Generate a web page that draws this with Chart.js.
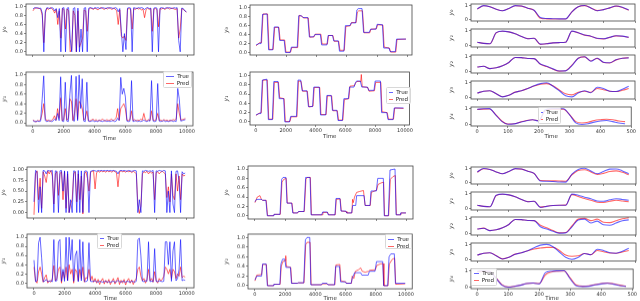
<!DOCTYPE html>
<html lang="en">
<head>
<meta charset="UTF-8" />
<title>True vs Pred</title>
<script src="https://cdn.jsdelivr.net/npm/chart.js@4.4.1/dist/chart.umd.min.js"></script>
<style>
  body { margin: 0; background: #fff; width: 640px; height: 301px; overflow: hidden; position: relative; font-family: "DejaVu Sans", sans-serif; }
  .panel { position: absolute; }
  .leg { position: absolute; z-index: 5; box-sizing: border-box; background: rgba(255,255,255,0.85); border: 1px solid #d8d8d8; border-radius: 1.5px; padding: 1px 2px; font: 5.5px "DejaVu Sans", sans-serif; color: #222; }
  .leg div { height: 7px; line-height: 7px; display: flex; align-items: center; white-space: nowrap; }
  .leg i { display: inline-block; width: 9px; height: 1px; margin-right: 3px; }
</style>
</head>
<body>
<script>
  // ---- data ----
  // left column: one sample every 100 time steps
  const leftT = Array.from({ length: 100 }, (_, i) => i * 100);

  const tl0True = [0.94,0.97,0.96,0.97,0.95,0.96,0.85,0.0,0.9,0.97,
    0.96,0.95,0.97,0.96,0.9,0.95,0.75,0.95,0.0,0.96,
    0.97,0.0,0.96,0.97,0.3,0.0,0.95,0.97,0.0,0.96,
    0.0,0.5,0.0,0.96,0.97,0.0,0.96,0.97,0.96,0.95,
    0.97,0.96,0.97,0.95,0.96,0.97,0.96,0.95,0.97,0.96,
    0.97,0.96,0.95,0.97,0.96,0.88,0.95,0.45,0.0,0.4,
    0.05,0.96,0.97,0.96,0.0,0.97,0.96,0.95,0.97,0.96,
    0.97,0.96,0.93,0.96,0.97,0.95,0.96,0.0,0.96,0.97,
    0.96,0.0,0.96,0.97,0.96,0.95,0.97,0.96,0.97,0.96,
    0.95,0.97,0.96,0.97,0.25,0.0,0.96,0.95,0.9,0.88];
  const tl0Pred = [0.9,0.95,0.97,0.95,0.96,0.93,0.8,0.2,0.85,0.96,
    0.93,0.97,0.95,0.92,0.85,0.93,0.6,0.9,0.3,0.95,
    0.93,0.5,0.94,0.9,0.0,0.05,0.9,0.8,0.0,0.9,
    0.1,0.2,0.3,0.92,0.9,0.45,0.93,0.96,0.95,0.93,
    0.96,0.94,0.92,0.96,0.97,0.95,0.93,0.96,0.94,0.97,
    0.95,0.93,0.96,0.94,0.9,0.6,0.92,0.35,0.3,0.35,
    0.25,0.94,0.95,0.93,0.5,0.95,0.93,0.96,0.94,0.95,
    0.92,0.94,0.75,0.93,0.96,0.93,0.95,0.45,0.94,0.95,
    0.93,0.55,0.95,0.94,0.96,0.93,0.95,0.97,0.94,0.95,
    0.96,0.94,0.93,0.95,0.3,0.5,0.95,0.93,0.9,0.87];
  const tl1True = [0.05,0.03,0.03,0.04,0.03,0.04,0.5,0.98,0.05,0.03,
    0.04,0.05,0.03,0.04,0.08,0.05,0.2,0.05,0.96,0.04,
    0.03,0.85,0.04,0.03,0.6,0.99,0.05,0.04,0.97,0.05,
    1.0,0.3,0.92,0.04,0.03,0.85,0.04,0.03,0.04,0.05,
    0.03,0.04,0.03,0.05,0.04,0.03,0.04,0.05,0.03,0.04,
    0.03,0.04,0.05,0.03,0.04,0.1,0.05,0.95,0.6,0.72,
    0.55,0.04,0.03,0.04,0.88,0.03,0.04,0.05,0.03,0.04,
    0.03,0.04,0.06,0.04,0.03,0.05,0.04,0.88,0.04,0.03,
    0.04,0.82,0.04,0.03,0.04,0.05,0.03,0.04,0.03,0.04,
    0.05,0.03,0.04,0.03,0.72,0.5,0.04,0.05,0.06,0.07];
  const tl1Pred = [0.06,0.04,0.02,0.05,0.04,0.07,0.2,0.4,0.1,0.04,
    0.06,0.03,0.05,0.08,0.15,0.06,0.3,0.1,0.52,0.05,
    0.07,0.3,0.06,0.1,0.5,0.45,0.05,0.2,0.5,0.08,
    0.45,0.4,0.3,0.06,0.1,0.25,0.05,0.04,0.06,0.08,
    0.05,0.07,0.04,0.06,0.05,0.08,0.06,0.04,0.07,0.05,
    0.06,0.08,0.05,0.07,0.1,0.3,0.06,0.3,0.35,0.4,
    0.3,0.06,0.05,0.07,0.25,0.05,0.07,0.04,0.06,0.05,
    0.08,0.06,0.2,0.06,0.04,0.07,0.05,0.25,0.06,0.05,
    0.07,0.2,0.05,0.06,0.04,0.07,0.05,0.06,0.04,0.06,
    0.05,0.07,0.06,0.08,0.4,0.2,0.06,0.07,0.08,0.09];

  const bl0True = [0.25,0.98,0.95,0.0,0.6,0.0,0.98,0.97,0.9,0.98,
    0.97,0.96,0.98,0.0,0.97,0.96,0.0,0.97,0.98,0.5,
    0.97,0.0,0.96,0.0,0.3,0.0,0.97,0.96,0.0,0.98,
    0.0,0.97,0.0,0.96,0.97,0.95,0.0,0.96,0.97,0.98,
    0.97,0.96,0.98,0.97,0.98,0.97,0.98,0.97,0.98,0.97,
    0.98,0.97,0.98,0.97,0.96,0.9,0.97,0.98,0.97,0.98,
    0.97,0.96,0.98,0.97,0.96,0.97,0.98,0.97,0.0,0.3,
    0.0,0.97,0.96,0.98,0.97,0.96,0.97,0.96,0.98,0.0,
    0.97,0.96,0.98,0.97,0.96,0.98,0.97,0.0,0.5,0.0,
    0.97,0.2,0.0,0.96,0.97,0.75,0.0,0.95,0.9,0.92];
  const bl0Pred = [-0.05,0.9,0.97,0.3,0.8,0.1,0.95,0.85,0.7,0.97,
    0.9,0.98,0.85,0.2,0.9,0.95,0.4,0.9,0.95,0.3,
    0.95,0.1,0.9,0.0,0.2,0.3,0.9,0.95,0.25,0.9,
    0.3,0.85,-0.03,0.9,0.95,0.8,0.5,0.93,0.96,0.97,
    0.55,0.93,0.96,0.94,0.97,0.95,0.96,0.94,0.97,0.95,
    0.96,0.94,0.97,0.95,0.93,0.6,0.95,0.97,0.95,0.96,
    0.94,0.97,0.95,0.96,0.93,0.96,0.94,0.9,0.2,-0.02,
    0.15,0.9,0.95,0.93,0.96,0.9,0.95,0.92,0.94,0.3,
    0.93,0.95,0.9,0.94,0.96,0.93,0.9,0.35,0.6,0.25,
    0.9,0.4,0.3,0.9,0.5,0.85,0.3,0.9,0.85,0.87];
  const bl1True = [0.5,0.03,0.05,0.88,1.0,0.55,0.03,0.04,0.08,0.03,
    0.04,0.05,0.03,0.95,0.04,0.05,0.9,0.95,0.04,0.3,
    0.04,1.0,0.05,1.0,0.5,0.95,0.04,0.6,0.7,0.03,
    0.95,0.05,0.9,0.04,0.03,0.05,0.88,0.04,0.03,0.04,
    0.05,0.03,0.02,0.04,0.03,0.02,0.03,0.04,0.02,0.03,
    0.02,0.03,0.04,0.02,0.03,0.06,0.03,0.02,0.04,0.03,
    0.02,0.04,0.03,0.02,0.04,0.03,0.02,0.04,0.95,0.98,
    0.6,0.04,0.03,0.05,0.04,0.9,0.03,0.04,0.03,0.75,
    0.04,0.03,0.05,0.04,0.03,0.04,0.9,0.9,0.4,0.9,
    0.04,0.7,0.9,0.05,0.1,0.3,0.95,0.05,0.07,0.06];
  const bl1Pred = [0.35,0.05,0.0,0.25,0.35,0.2,0.02,0.12,0.18,0.0,
    0.05,0.02,0.1,0.38,0.05,0.1,0.3,0.35,0.0,0.25,
    0.1,0.35,0.05,0.4,0.2,0.3,0.0,0.3,0.25,0.05,
    0.3,0.1,0.35,0.02,0.12,0.1,0.3,0.05,0.15,0.02,
    0.1,0.0,0.08,-0.03,0.05,0.1,-0.02,0.06,0.0,0.08,
    -0.03,0.04,0.1,-0.02,0.05,0.12,-0.03,0.06,0.0,0.08,
    -0.04,0.05,0.1,0.0,0.07,-0.03,0.05,0.1,0.3,0.35,
    0.15,0.05,0.1,0.0,0.08,0.3,0.05,0.1,0.02,0.25,
    0.05,0.0,0.1,0.05,0.08,0.15,0.35,0.3,0.2,0.3,
    0.1,0.3,0.25,0.1,0.2,0.15,0.35,0.12,0.15,0.13];

  // middle column: breakpoints of the piecewise-constant signals
  const tmTrueX = [0,200,330,430,730,830,1100,1200,1480,1560,1860,1940,2250,2330,2720,2820,3000,3100,3420,3520,
    3800,3880,4250,4330,4680,4760,5050,5130,5430,5510,5800,5900,6200,6280,6580,6660,6750,7000,7100,7480,
    7560,7920,8000,8350,8430,8780,8860,9200,9280,9900];
  const tm0TrueY = [0.17,0.2,0.2,0.85,0.86,0.06,0.06,0.57,0.57,0.27,0.27,0.0,0.0,0.12,0.12,0.82,0.82,0.78,0.78,0.35,
    0.35,0.4,0.4,0.17,0.17,0.38,0.38,0.26,0.26,0.03,0.03,0.6,0.6,0.66,0.66,0.95,0.98,0.98,0.45,0.45,
    0.52,0.52,0.63,0.62,0.1,0.1,0.02,0.02,0.3,0.3];
  const tm1TrueY = [0.15,0.18,0.18,0.9,0.92,0.05,0.05,0.87,0.87,0.5,0.5,0.0,0.0,0.12,0.12,0.9,0.9,0.67,0.67,0.33,
    0.33,0.75,0.75,0.15,0.15,0.57,0.57,0.25,0.25,0.03,0.03,0.5,0.5,0.75,0.75,0.83,0.88,0.88,0.75,0.75,
    0.68,0.68,0.88,0.88,0.2,0.2,0.05,0.05,0.3,0.3];
  const tm0PredX = [0,230,360,460,760,860,1130,1230,1510,1590,1890,1970,2280,2360,2750,2850,3030,3130,3450,3550,
    3830,3910,4280,4360,4710,4790,5080,5160,5460,5540,5830,5930,6230,6310,6610,6690,6780,7030,7130,7510,
    7590,7950,8030,8380,8460,8810,8890,9230,9310,9900];
  const tm0PredY = [0.15,0.22,0.22,0.86,0.86,0.07,0.07,0.56,0.56,0.28,0.28,0.01,0.01,0.11,0.11,0.83,0.81,0.77,0.77,0.34,
    0.35,0.41,0.41,0.19,0.19,0.38,0.38,0.25,0.25,0.05,0.05,0.58,0.6,0.67,0.67,0.9,0.93,0.93,0.44,0.44,
    0.52,0.53,0.62,0.61,0.12,0.1,0.01,0.01,0.29,0.3];
  const tm1PredX = [0,230,360,460,760,860,1130,1230,1510,1590,1890,1970,2280,2360,2750,2850,3030,3130,3450,3550,
    3830,3910,4280,4360,4710,4790,5080,5160,5460,5540,5830,5930,6230,6310,6610,6690,6780,7030,7070,7130,7510,
    7590,7950,8030,8380,8460,8810,8890,9230,9310,9900];
  const tm1PredY = [0.14,0.19,0.2,0.9,0.9,0.06,0.06,0.85,0.85,0.52,0.5,0.01,0.01,0.11,0.11,0.88,0.87,0.66,0.66,0.32,
    0.34,0.74,0.74,0.16,0.16,0.56,0.56,0.24,0.24,0.04,0.04,0.48,0.5,0.77,0.78,0.84,0.87,0.87,1.02,0.76,0.74,
    0.66,0.67,0.85,0.85,0.22,0.2,0.06,0.06,0.3,0.29];

  const bm0TrueX = [0,100,440,500,720,810,1200,1250,1650,1760,1850,2040,2110,2420,2490,2800,2860,3230,3340,3630,
    3700,4400,4460,4770,4830,5270,5340,5600,5670,5990,6040,6370,6440,6640,6700,7190,7260,7580,7650,8000,
    8090,8460,8520,8790,8900,9230,9300,9560,9600,9950];
  const bm0TrueY = [0.3,0.35,0.35,0.33,0.33,0.0,0.0,0.03,0.03,0.78,0.82,0.82,0.27,0.27,0.06,0.06,0.09,0.09,0.82,0.82,
    0.02,0.02,0.08,0.08,0.02,0.02,0.37,0.37,0.1,0.1,0.06,0.06,0.22,0.22,0.43,0.43,0.22,0.22,0.53,0.53,
    0.8,0.8,0.0,0.0,0.98,1.0,0.02,0.02,0.06,0.06];
  const bm0PredX = [0,150,330,420,500,740,830,1220,1270,1670,1780,1900,2060,2130,2440,2510,2820,2880,3250,3360,
    3450,3650,3720,4420,4480,4790,4850,5290,5360,5620,5690,6010,6060,6390,6430,6480,6560,6700,6900,7150,
    7260,7600,7670,8020,8110,8300,8480,8540,8810,8920,9100,9250,9320,9580,9620,9950];
  const bm0PredY = [0.28,0.4,0.43,0.35,0.33,0.33,0.0,0.0,0.03,0.03,0.72,0.78,0.8,0.27,0.27,0.06,0.06,0.09,0.09,0.78,
    0.82,0.82,0.02,0.02,0.07,0.07,0.02,0.02,0.35,0.36,0.1,0.09,0.06,0.06,0.35,0.28,0.4,0.5,0.52,0.54,
    0.22,0.22,0.5,0.55,0.67,0.7,0.72,0.0,0.0,0.78,0.84,0.86,0.02,0.02,0.06,0.06];
  const bm1TrueX = [0,120,440,510,740,820,1200,1250,1650,1720,1830,1980,2050,2350,2420,2800,2860,3230,3340,3450,
    3630,3700,4400,4460,4770,4830,5270,5340,5600,5670,5990,6040,6370,6440,6600,7000,7080,7500,7580,7950,
    8050,8460,8520,8790,8880,9000,9230,9300,9950];
  const bm1TrueY = [0.12,0.2,0.2,0.45,0.45,0.0,0.0,0.03,0.03,0.45,0.55,0.55,0.38,0.38,0.05,0.05,0.06,0.06,0.95,1.0,
    1.0,0.02,0.02,0.05,0.05,0.02,0.02,0.4,0.4,0.08,0.08,0.05,0.05,0.15,0.27,0.27,0.22,0.22,0.3,0.3,
    0.5,0.5,0.0,0.0,0.6,0.66,0.66,0.05,0.05];
  const bm1PredX = [0,120,440,510,760,840,1220,1270,1670,1740,1850,1990,2040,2080,2370,2440,2820,2880,3250,3360,
    3460,3650,3720,4420,4480,4790,4850,5290,5360,5620,5690,6010,6060,6390,6440,6550,6650,6850,7000,7100,
    7300,7520,7600,7970,8070,8300,8480,8540,8810,8900,9100,9250,9320,9950];
  const bm1PredY = [0.1,0.22,0.23,0.44,0.44,0.0,0.0,0.03,0.03,0.4,0.5,0.52,0.62,0.4,0.38,0.05,0.05,0.06,0.06,0.85,
    0.9,0.9,0.02,0.02,0.04,0.04,0.02,0.02,0.43,0.44,0.1,0.08,0.05,0.05,0.2,0.15,0.3,0.33,0.37,0.3,
    0.28,0.3,0.32,0.33,0.42,0.45,0.46,0.0,0.0,0.45,0.55,0.57,0.03,0.04];

  // right column: one sample every 20 time steps
  const rightT = [0,20,40,60,80,100,120,140,160,180,200,220,240,260,280,300,320,340,360,380,400,420,440,460,480];
  const tr0True = [0.75,0.98,0.9,0.72,0.62,0.78,0.98,0.95,0.8,0.66,0.15,0.08,0.07,0.06,0.06,0.55,0.9,0.99,0.82,0.62,0.7,0.82,0.95,0.86,0.68];
  const tr0Pred = [0.74,0.97,0.9,0.72,0.62,0.77,0.97,0.94,0.8,0.65,0.1,0.06,0.05,0.05,0.05,0.55,0.9,0.98,0.82,0.63,0.7,0.82,0.94,0.85,0.66];
  const tr1True = [0.22,0.15,0.12,0.85,0.95,0.9,0.78,0.6,0.45,0.48,0.1,0.12,0.18,0.2,0.22,0.95,0.85,0.7,0.62,0.48,0.45,0.55,0.65,0.62,0.55];
  const tr1Pred = [0.22,0.15,0.12,0.84,0.94,0.9,0.78,0.6,0.46,0.48,0.08,0.13,0.18,0.2,0.22,0.94,0.84,0.69,0.62,0.47,0.44,0.54,0.64,0.61,0.54];
  const tr2True = [0.3,0.35,0.2,0.25,0.38,0.6,0.93,0.92,0.86,0.85,0.5,0.35,0.18,0.04,0.05,0.4,0.88,0.98,0.68,0.88,0.62,0.58,0.78,0.88,0.9];
  const tr2Pred = [0.3,0.35,0.2,0.25,0.38,0.6,0.93,0.92,0.86,0.85,0.48,0.33,0.16,0.03,0.06,0.42,0.88,0.97,0.7,0.87,0.6,0.57,0.77,0.88,0.91];
  const tr3True = [0.3,0.42,0.45,0.25,0.05,0.15,0.35,0.45,0.6,0.78,0.92,0.98,0.75,0.45,0.12,0.05,0.3,0.45,0.32,0.68,0.6,0.42,0.4,0.55,0.75];
  const tr3Pred = [0.3,0.42,0.45,0.25,0.06,0.15,0.36,0.45,0.6,0.76,0.88,0.92,0.78,0.5,0.25,0.18,0.35,0.42,0.35,0.6,0.52,0.42,0.4,0.48,0.6];
  const tr4True = [0.95,0.98,0.99,0.6,0.2,0.02,0.04,0.14,0.24,0.3,0.22,0.9,0.98,0.98,0.98,0.6,0.1,0.0,0.05,0.15,0.22,0.25,0.18,0.1,0.05];
  const tr4Pred = [0.93,0.96,0.97,0.62,0.22,0.03,0.05,0.15,0.25,0.3,0.24,0.85,0.95,0.96,0.95,0.62,0.18,0.1,0.14,0.25,0.3,0.33,0.3,0.22,0.18];

  const br0True = [0.75,0.99,0.92,0.75,0.62,0.78,0.98,0.95,0.8,0.65,0.12,0.1,0.08,0.05,0.04,0.6,0.92,1.0,0.82,0.62,0.78,0.94,0.95,0.82,0.62];
  const br0Pred = [0.73,0.97,0.92,0.75,0.62,0.77,0.97,0.94,0.8,0.64,0.15,0.14,0.13,0.12,0.1,0.55,0.85,0.9,0.75,0.58,0.65,0.78,0.82,0.72,0.55];
  const br1True = [0.22,0.15,0.12,0.88,0.95,0.9,0.78,0.6,0.45,0.48,0.08,0.15,0.2,0.22,0.22,0.95,0.88,0.75,0.65,0.5,0.48,0.58,0.65,0.6,0.55];
  const br1Pred = [0.22,0.15,0.12,0.86,0.94,0.9,0.78,0.6,0.46,0.48,0.1,0.16,0.2,0.22,0.23,0.92,0.8,0.66,0.55,0.42,0.4,0.48,0.55,0.5,0.45];
  const br2True = [0.3,0.35,0.2,0.25,0.38,0.6,0.93,0.92,0.86,0.85,0.45,0.3,0.15,0.03,0.05,0.45,0.9,0.95,0.7,0.82,0.58,0.55,0.7,0.85,0.9];
  const br2Pred = [0.3,0.36,0.2,0.25,0.38,0.6,0.93,0.92,0.86,0.85,0.55,0.38,0.2,0.05,0.07,0.5,0.95,1.0,0.85,0.95,0.75,0.72,0.85,0.98,1.05];
  const br3True = [0.3,0.42,0.45,0.25,0.04,0.15,0.35,0.45,0.58,0.78,0.95,1.0,0.85,0.5,0.15,0.02,0.15,0.4,0.32,0.68,0.6,0.45,0.42,0.55,0.75];
  const br3Pred = [0.3,0.42,0.45,0.26,0.05,0.15,0.36,0.45,0.58,0.7,0.76,0.8,0.8,0.6,0.3,0.22,0.25,0.4,0.33,0.6,0.52,0.43,0.42,0.5,0.6];
  const br4True = [0.95,0.98,0.95,0.55,0.12,0.0,0.05,0.12,0.22,0.25,0.2,0.88,0.97,0.99,1.0,0.5,0.08,0.04,0.06,0.14,0.2,0.24,0.18,0.1,0.05];
  const br4Pred = [0.93,0.96,0.95,0.58,0.15,0.02,0.06,0.13,0.22,0.25,0.22,0.75,0.92,0.97,0.98,0.55,0.12,0.06,0.08,0.16,0.22,0.25,0.2,0.12,0.06];

  const longTicks = [0, 2000, 4000, 6000, 8000, 10000];
  const shortTicks = [0, 100, 200, 300, 400, 500];
  const fifthTicks = [0, 0.2, 0.4, 0.6, 0.8, 1.0];
  const quarterTicks = [0, 0.25, 0.5, 0.75, 1.0];
  const unitTicks = [0, 1];

  // ---- drawing ----
  Chart.defaults.font.family = '"DejaVu Sans", sans-serif';
  Chart.defaults.color = '#333';
  const BLUE = 'rgba(0,0,255,0.6)';
  const RED = 'rgba(255,0,0,0.6)';

  const boxPlugin = {
    id: 'box',
    afterDraw(chart) {
      const a = chart.chartArea, ctx = chart.ctx;
      ctx.save();
      ctx.strokeStyle = '#444';
      ctx.lineWidth = 0.8;
      ctx.strokeRect(a.left, a.top, a.right - a.left, a.bottom - a.top);
      ctx.restore();
    }
  };

  const toPts = (xs, ys) => xs.map((x, i) => ({ x: x, y: ys[i] }));

  function panel(p) {
    const xH = p.xLabels ? p.xH : 3;
    const w = p.r - p.l + p.yW + 2;
    const h = p.b - p.t + xH;
    const div = document.createElement('div');
    div.className = 'panel';
    div.style.left = (p.l - p.yW) + 'px';
    div.style.top = p.t + 'px';
    div.style.width = w + 'px';
    div.style.height = h + 'px';
    const cv = document.createElement('canvas');
    div.appendChild(cv);
    document.body.appendChild(div);

    const line = { pointRadius: 0, borderWidth: p.smooth ? 1.1 : 1, fill: false,
      tension: p.smooth ? 0.4 : 0, cubicInterpolationMode: p.smooth ? 'monotone' : 'default' };

    new Chart(cv, {
      type: 'line',
      data: {
        datasets: [
          Object.assign({ label: 'True', data: toPts(p.xt, p.yt), borderColor: BLUE }, line),
          Object.assign({ label: 'Pred', data: toPts(p.xp, p.yp), borderColor: RED }, line)
        ]
      },
      options: {
        responsive: true,
        maintainAspectRatio: false,
        animation: false,
        events: [],
        layout: { autoPadding: false, padding: { left: 0, right: 2, top: 0, bottom: 0 } },
        plugins: { legend: { display: false }, tooltip: { enabled: false } },
        scales: {
          x: {
            type: 'linear', min: p.xr[0], max: p.xr[1],
            afterBuildTicks: s => { s.ticks = p.xTicks.map(v => ({ value: v })); },
            afterFit: s => { s.height = xH; },
            ticks: { display: !!p.xLabels, autoSkip: false, maxRotation: 0, padding: 1,
              font: { size: 5 }, color: '#333', callback: v => String(v) },
            grid: { display: true, drawOnChartArea: false, drawTicks: true, tickLength: 2, color: '#444', lineWidth: 0.6 },
            border: { display: false },
            title: { display: !!p.xLabels, text: 'Time', font: { size: 5.5 }, color: '#333', padding: { top: 1, bottom: 0 } }
          },
          y: {
            type: 'linear', min: p.yr[0], max: p.yr[1],
            afterBuildTicks: s => { s.ticks = p.yTicks.map(v => ({ value: v })); },
            afterFit: s => { s.width = p.yW; },
            ticks: { autoSkip: false, padding: 1, font: { size: 5 }, color: '#333',
              callback: v => Number(v).toFixed(p.yDec) },
            grid: { display: true, drawOnChartArea: false, drawTicks: true, tickLength: 2, color: '#444', lineWidth: 0.6 },
            border: { display: false },
            title: { display: true, text: p.yTitle, font: { size: 6, style: 'italic' }, color: '#333', padding: { top: 0, bottom: 0 } }
          }
        }
      },
      plugins: [boxPlugin]
    });
  }

  function legend(x, y, w, h) {
    const d = document.createElement('div');
    d.className = 'leg';
    d.style.left = x + 'px';
    d.style.top = y + 'px';
    d.style.width = w + 'px';
    d.style.height = h + 'px';
    d.innerHTML = '<div><i style="background:' + BLUE + '"></i>True</div>' +
                  '<div><i style="background:' + RED + '"></i>Pred</div>';
    document.body.appendChild(d);
  }

  // top-left
  const tlBase = { l: 26, r: 194, xr: [-450, 10390], xTicks: longTicks, yTicks: fifthTicks, yDec: 1, yW: 25, xH: 15.5 };
  panel(Object.assign({}, tlBase, { t: 0, b: 56, yr: [-0.07, 1.05], yTitle: 'y₀', xt: leftT, yt: tl0True, xp: leftT, yp: tl0Pred }));
  panel(Object.assign({}, tlBase, { t: 68, b: 125, yr: [-0.06, 1.06], yTitle: 'y₁', xt: leftT, yt: tl1True, xp: leftT, yp: tl1Pred, xLabels: true }));
  legend(163, 71, 29, 17);

  // top-middle
  const tmBase = { l: 250, r: 412, xr: [-400, 10300], xTicks: longTicks, yTicks: fifthTicks, yDec: 1, yW: 27, xH: 15 };
  panel(Object.assign({}, tmBase, { t: 1, b: 56, yr: [-0.055, 1.06], yTitle: 'y₀', xt: tmTrueX, yt: tm0TrueY, xp: tm0PredX, yp: tm0PredY }));
  panel(Object.assign({}, tmBase, { t: 68, b: 125, yr: [-0.066, 1.074], yTitle: 'y₁', xt: tmTrueX, yt: tm1TrueY, xp: tm1PredX, yp: tm1PredY, xLabels: true }));
  legend(386, 87, 25, 17);

  // top-right
  const trBase = { l: 471, r: 635, xr: [-20, 500], xTicks: shortTicks, yTicks: unitTicks, yDec: 0, yW: 23, yr: [-0.09, 1.09], smooth: true, xH: 14 };
  const trRows = [[0, 22], [25, 48], [51, 74], [77, 100], [103, 126]];
  const trSeries = [[tr0True, tr0Pred], [tr1True, tr1Pred], [tr2True, tr2Pred], [tr3True, tr3Pred], [tr4True, tr4Pred]];
  const subs = ['y₀', 'y₁', 'y₂', 'y₃', 'y₄'];
  trRows.forEach((row, i) => {
    panel(Object.assign({}, trBase, { t: row[0], b: row[1], yTitle: subs[i],
      xt: rightT, yt: trSeries[i][0], xp: rightT, yp: trSeries[i][1], xLabels: i === 4 }));
  });
  legend(538, 107, 23, 17);

  // bottom-left
  const blBase = { l: 27, r: 194, xr: [-458, 10478], xTicks: longTicks, yW: 27, xH: 13.5 };
  panel(Object.assign({}, blBase, { t: 163, b: 219, yr: [-0.125, 1.06], yTicks: quarterTicks, yDec: 2, yTitle: 'y₀', xt: leftT, yt: bl0True, xp: leftT, yp: bl0Pred }));
  panel(Object.assign({}, blBase, { t: 230, b: 287, yr: [-0.105, 1.07], yTicks: fifthTicks, yDec: 1, yTitle: 'y₁', xt: leftT, yt: bl1True, xp: leftT, yp: bl1Pred, xLabels: true }));
  legend(97, 233, 25, 16);

  // bottom-middle
  const bmBase = { l: 248, r: 413, xr: [-460, 10415], xTicks: longTicks, yTicks: fifthTicks, yDec: 1, yW: 25, xH: 12.8 };
  panel(Object.assign({}, bmBase, { t: 162, b: 220, yr: [-0.07, 1.065], yTitle: 'y₀', xt: bm0TrueX, yt: bm0TrueY, xp: bm0PredX, yp: bm0PredY }));
  panel(Object.assign({}, bmBase, { t: 230, b: 288, yr: [-0.065, 1.07], yTitle: 'y₁', xt: bm1TrueX, yt: bm1TrueY, xp: bm1PredX, yp: bm1PredY, xLabels: true }));
  legend(385, 234, 27, 15);

  // bottom-right
  const brBase = { l: 471, r: 636, xr: [-20, 503], xTicks: shortTicks, yTicks: unitTicks, yDec: 0, yW: 23, yr: [-0.09, 1.09], smooth: true, xH: 12.5 };
  const brRows = [[163, 185], [188, 211], [213, 236], [239, 262], [265, 288]];
  const brSeries = [[br0True, br0Pred], [br1True, br1Pred], [br2True, br2Pred], [br3True, br3Pred], [br4True, br4Pred]];
  brRows.forEach((row, i) => {
    panel(Object.assign({}, brBase, { t: row[0], b: row[1], yTitle: subs[i],
      xt: rightT, yt: brSeries[i][0], xp: rightT, yp: brSeries[i][1], xLabels: i === 4 }));
  });
  legend(471, 268, 26, 18);
</script>
</body>
</html>
